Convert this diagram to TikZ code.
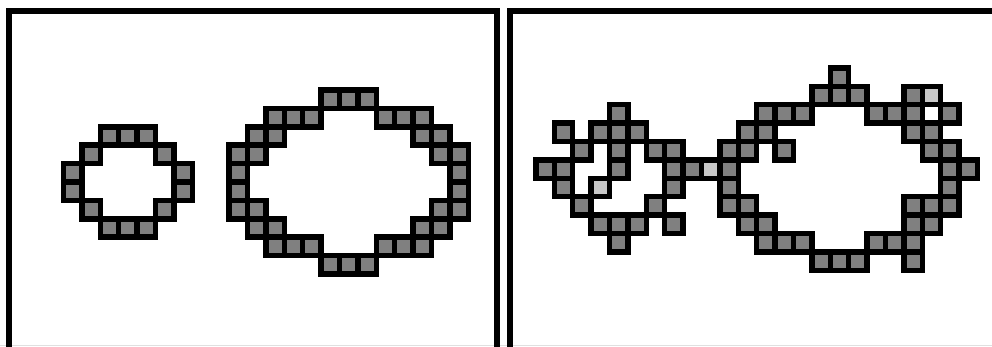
\documentclass[tikz,border=0pt]{standalone}
\definecolor{cellgray}{HTML}{808080}
\definecolor{celllight}{HTML}{C8C8C8}
\begin{document}
\begin{tikzpicture}[x=1pt,y=-1pt,
  cellbox/.style={draw=black, line width=5.5pt, line join=miter},
  frame/.style={draw=black, line width=6pt, line join=miter}]
\useasboundingbox (0,0) rectangle (992,347);
\clip (0,0) rectangle (992,347);
\fill[white] (0,0) rectangle (992,347);
\def\pitch{18.4}
\def\lxo{72.7}\def\lyo{99.2}
\def\rxo{563.5}\def\ryo{95.5}
% faint bottom line
\draw[black!12, line width=1pt] (0,345.5) -- (992,345.5);
% panel frames
\draw[frame] (9,360) -- (9,11) -- (496.5,11) -- (496.5,360);
\draw[frame] (510,360) -- (510,11) -- (1000,11);
% left panel cells
\foreach \c/\r in {2/2,3/2,4/2,1/3,5/3,0/4,6/4,0/5,6/5,1/6,5/6,2/7,3/7,4/7,
  14/0,15/0,16/0,
  11/1,12/1,13/1,17/1,18/1,19/1,
  10/2,11/2,19/2,20/2,
  9/3,10/3,20/3,21/3,
  9/4,21/4,9/5,21/5,
  9/6,10/6,20/6,21/6,
  10/7,11/7,19/7,20/7,
  11/8,12/8,13/8,17/8,18/8,19/8,
  14/9,15/9,16/9}
  \draw[cellbox, fill=cellgray] ({\lxo+\pitch*\c-\pitch/2},{\lyo+\pitch*\r-\pitch/2}) rectangle ++(\pitch,\pitch);
% right panel cells
\foreach \c/\r in {15/-1,
  14/0,15/0,16/0,19/0,
  3/1,11/1,12/1,13/1,17/1,18/1,19/1,21/1,
  0/2,2/2,3/2,4/2,10/2,11/2,19/2,20/2,
  1/3,3/3,5/3,6/3,9/3,10/3,12/3,20/3,21/3,
  -1/4,0/4,3/4,6/4,7/4,9/4,21/4,22/4,
  0/5,6/5,9/5,21/5,
  1/6,5/6,9/6,10/6,19/6,20/6,21/6,
  2/7,3/7,4/7,6/7,10/7,11/7,19/7,20/7,
  3/8,11/8,12/8,13/8,17/8,18/8,19/8,
  14/9,15/9,16/9,19/9}
  \draw[cellbox, fill=cellgray] ({\rxo+\pitch*\c-\pitch/2},{\ryo+\pitch*\r-\pitch/2}) rectangle ++(\pitch,\pitch);
\foreach \c/\r in {20/0,8/4,2/5}
  \draw[cellbox, fill=celllight] ({\rxo+\pitch*\c-\pitch/2},{\ryo+\pitch*\r-\pitch/2}) rectangle ++(\pitch,\pitch);
\foreach \c/\r in {20/1}
  \draw[cellbox, fill=white] ({\rxo+\pitch*\c-\pitch/2},{\ryo+\pitch*\r-\pitch/2}) rectangle ++(\pitch,\pitch);
\end{tikzpicture}
\end{document}
